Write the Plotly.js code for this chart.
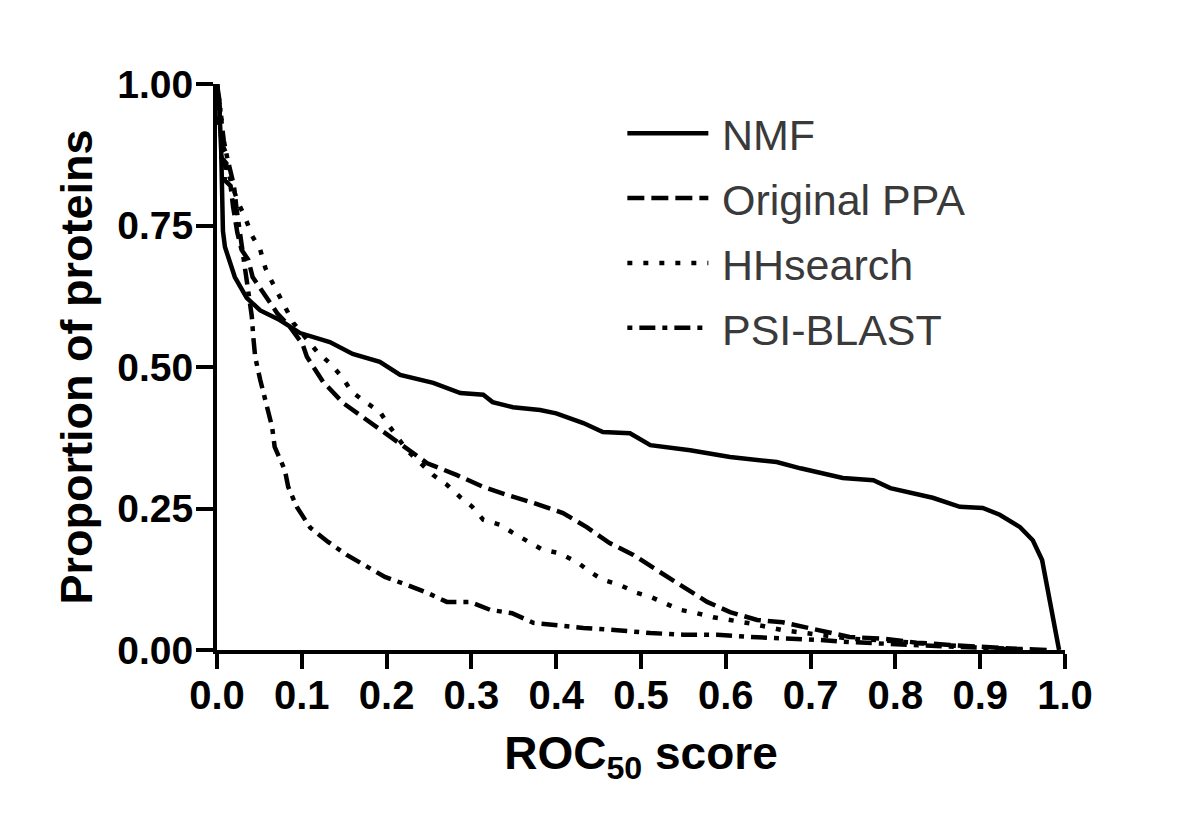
<!DOCTYPE html>
<html>
<head>
<meta charset="utf-8">
<script src="https://cdn.plot.ly/plotly-3.0.1.min.js"></script>
<style>
  html, body { margin: 0; padding: 0; background: #ffffff; }
  #chart { width: 1200px; height: 840px; }
</style>
</head>
<body>
<div id="chart"></div>
<script>
// ---- data ----
const seriesNames = ["NMF", "Original PPA", "HHsearch", "PSI-BLAST"];

const nmfX = [0, 0.003, 0.005, 0.006, 0.007, 0.0094, 0.021, 0.035, 0.051, 0.074, 0.098, 0.133, 0.160, 0.192, 0.216, 0.255, 0.287, 0.314, 0.325, 0.349, 0.381, 0.400, 0.432, 0.455, 0.487, 0.511, 0.558, 0.605, 0.660, 0.688, 0.738, 0.774, 0.794, 0.844, 0.876, 0.903, 0.923, 0.947, 0.962, 0.973, 0.979, 0.985, 0.991, 0.993];
const nmfY = [1.0, 0.95, 0.88, 0.80, 0.74, 0.712, 0.659, 0.622, 0.600, 0.583, 0.560, 0.544, 0.523, 0.509, 0.486, 0.472, 0.454, 0.451, 0.438, 0.429, 0.424, 0.418, 0.401, 0.385, 0.383, 0.362, 0.353, 0.341, 0.332, 0.321, 0.304, 0.300, 0.286, 0.269, 0.253, 0.251, 0.239, 0.217, 0.194, 0.159, 0.111, 0.058, 0.012, 0.0];

const ppaX = [0, 0.004, 0.002, 0.007, 0.005, 0.011, 0.009, 0.016, 0.019, 0.024, 0.029, 0.037, 0.042, 0.054, 0.071, 0.086, 0.101, 0.106, 0.125, 0.149, 0.171, 0.196, 0.212, 0.228, 0.248, 0.283, 0.314, 0.342, 0.373, 0.408, 0.436, 0.463, 0.491, 0.522, 0.550, 0.578, 0.605, 0.637, 0.667, 0.708, 0.746, 0.785, 0.825, 0.864, 0.900, 0.943, 0.980];
const ppaY = [1.0, 0.96, 0.93, 0.90, 0.87, 0.86, 0.83, 0.82, 0.783, 0.737, 0.707, 0.689, 0.659, 0.631, 0.595, 0.571, 0.540, 0.518, 0.474, 0.436, 0.412, 0.385, 0.367, 0.350, 0.330, 0.309, 0.288, 0.274, 0.260, 0.242, 0.217, 0.189, 0.168, 0.138, 0.111, 0.085, 0.067, 0.053, 0.049, 0.035, 0.023, 0.020, 0.013, 0.009, 0.005, 0.002, 0.0];

const hhX = [0, 0.003, 0.006, 0.004, 0.010, 0.008, 0.014, 0.018, 0.025, 0.033, 0.041, 0.051, 0.057, 0.065, 0.074, 0.083, 0.090, 0.118, 0.135, 0.147, 0.159, 0.175, 0.192, 0.202, 0.224, 0.255, 0.271, 0.287, 0.301, 0.314, 0.334, 0.349, 0.369, 0.384, 0.404, 0.425, 0.440, 0.455, 0.475, 0.495, 0.511, 0.531, 0.546, 0.566, 0.585, 0.605, 0.629, 0.667, 0.708, 0.746, 0.785, 0.825, 0.864, 0.900, 0.960];
const hhY = [1.0, 0.97, 0.93, 0.90, 0.88, 0.85, 0.84, 0.82, 0.79, 0.765, 0.733, 0.707, 0.675, 0.650, 0.624, 0.601, 0.578, 0.527, 0.504, 0.483, 0.456, 0.438, 0.421, 0.398, 0.353, 0.309, 0.292, 0.270, 0.253, 0.230, 0.221, 0.207, 0.191, 0.177, 0.171, 0.155, 0.138, 0.124, 0.115, 0.101, 0.094, 0.080, 0.071, 0.065, 0.058, 0.053, 0.047, 0.035, 0.027, 0.020, 0.017, 0.012, 0.008, 0.005, 0.0];

const psiX = [0, 0.004, 0.008, 0.012, 0.016, 0.020, 0.023, 0.028, 0.033, 0.037, 0.041, 0.043, 0.045, 0.051, 0.057, 0.065, 0.068, 0.080, 0.084, 0.094, 0.110, 0.131, 0.153, 0.175, 0.198, 0.224, 0.248, 0.271, 0.298, 0.322, 0.348, 0.373, 0.396, 0.432, 0.472, 0.511, 0.550, 0.590, 0.629, 0.667, 0.708, 0.746, 0.785, 0.825, 0.864, 0.900, 0.950];
const psiY = [1.0, 0.95, 0.90, 0.87, 0.84, 0.82, 0.78, 0.73, 0.68, 0.64, 0.59, 0.55, 0.518, 0.477, 0.442, 0.394, 0.359, 0.318, 0.288, 0.253, 0.216, 0.191, 0.168, 0.150, 0.129, 0.115, 0.101, 0.085, 0.085, 0.071, 0.065, 0.048, 0.044, 0.039, 0.035, 0.030, 0.027, 0.027, 0.023, 0.021, 0.018, 0.014, 0.012, 0.009, 0.006, 0.004, 0.0];

const xTickVals = [0, 0.1, 0.2, 0.3, 0.4, 0.5, 0.6, 0.7, 0.8, 0.9, 1.0];
const xTickText = ["0.0", "0.1", "0.2", "0.3", "0.4", "0.5", "0.6", "0.7", "0.8", "0.9", "1.0"];
const yTickVals = [0, 0.25, 0.5, 0.75, 1.0];
const yTickText = ["0.00", "0.25", "0.50", "0.75", "1.00"];

// ---- styles ----
const FONT = "Liberation Sans, Arial, Helvetica, sans-serif";
const LW = 4.5;
const seriesX = [nmfX, ppaX, hhX, psiX];
const seriesY = [nmfY, ppaY, hhY, psiY];
const dashes = ["solid", "17px,7px", "5px,11px", "5px,7px,16px,7px"];

const traces = seriesNames.map((name, i) => ({
  type: "scatter",
  mode: "lines",
  name: "\u2009" + name,
  x: seriesX[i],
  y: seriesY[i],
  legendgroup: "g" + i,
  line: { color: "#000000", width: LW, dash: dashes[i] },
  hoverinfo: "skip"
}));

const layout = {
  width: 1200,
  height: 840,
  paper_bgcolor: "#ffffff",
  plot_bgcolor: "#ffffff",
  margin: { l: 217, r: 135, t: 84, b: 190, pad: 0 },
  font: { family: FONT, color: "#000000" },
  showlegend: true,
  legend: {
    x: 0.478, y: 0.974, xanchor: "left", yanchor: "top",
    bgcolor: "rgba(0,0,0,0)",
    font: { family: FONT, size: 43, color: "#3a3a3a" },
    itemwidth: 81,
    tracegroupgap: 6
  },
  xaxis: {
    range: [0, 1],
    tickmode: "array",
    tickvals: xTickVals,
    ticktext: xTickText,
    ticks: "outside",
    ticklen: 15,
    tickwidth: 4,
    tickcolor: "#000000",
    ticklabelstandoff: -8,
    showline: true,
    linewidth: 4,
    linecolor: "#000000",
    showgrid: false,
    zeroline: false,
    tickfont: { family: FONT, size: 40, color: "#000000", weight: "bold" },
    title: { text: "ROC<sub>50</sub> score", font: { family: FONT, size: 46, color: "#000000", weight: "bold" }, standoff: 22 },
    automargin: false
  },
  yaxis: {
    range: [0, 1],
    tickmode: "array",
    tickvals: yTickVals,
    ticktext: yTickText,
    ticks: "outside",
    ticklen: 17,
    tickwidth: 4,
    tickcolor: "#000000",
    ticklabelstandoff: -5,
    showline: true,
    linewidth: 4,
    linecolor: "#000000",
    showgrid: false,
    zeroline: false,
    tickfont: { family: FONT, size: 39, color: "#000000", weight: "bold" },
    title: { text: "Proportion of proteins", font: { family: FONT, size: 45, color: "#000000", weight: "bold" }, standoff: 12 },
    automargin: false
  }
};

Plotly.newPlot("chart", traces, layout, { staticPlot: true, displayModeBar: false });
</script>
</body>
</html>
